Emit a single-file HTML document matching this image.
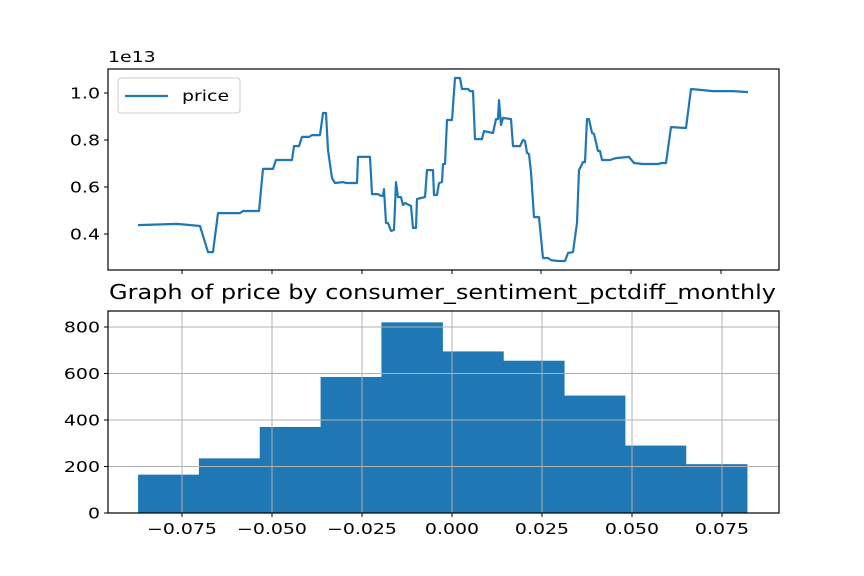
<!DOCTYPE html>
<html><head><meta charset="utf-8"><style>
body{margin:0;background:#fff}
svg{display:block;font-family:"DejaVu Sans","Liberation Sans",sans-serif}
</style></head><body>
<svg id="c" width="864" height="576" viewBox="0 0 864 576"></svg>
<script>
// top line series: time (arbitrary units) and price (1e13)
const lineT = [0,39,62,70,75,80,102,105,121,125,135,138,154,156,161,164,171,174,182,185,188,190,194,197,205,208,219,220,232,234,240,243,245,246,248,250,253,256,258,260,263,265,267,273,275,278,279,287,289,295,296,299,301,304,305,307,309,311,314,317,322,324,330,332,335,337,344,346,355,358,360,361,363,365,373,375,382,385,387,389,391,393,396,401,405,410,413,420,427,430,435,439,441,445,447,449,451,454,456,460,462,464,472,478,491,496,505,520,524,528,533,548,553,575,595,610];
const lineV = [0.438,0.443,0.434,0.323,0.323,0.489,0.489,0.498,0.498,0.677,0.677,0.715,0.715,0.774,0.774,0.813,0.813,0.821,0.821,0.915,0.915,0.757,0.638,0.617,0.621,0.617,0.617,0.728,0.728,0.570,0.570,0.562,0.562,0.591,0.447,0.447,0.413,0.417,0.621,0.557,0.557,0.523,0.532,0.519,0.426,0.426,0.549,0.557,0.672,0.672,0.566,0.566,0.617,0.621,0.698,0.698,0.885,0.885,0.885,1.064,1.064,1.017,1.017,1.008,1.008,0.804,0.804,0.838,0.830,0.889,0.889,0.970,0.864,0.894,0.889,0.774,0.774,0.800,0.796,0.745,0.740,0.664,0.472,0.472,0.298,0.298,0.289,0.285,0.285,0.319,0.323,0.447,0.672,0.706,0.706,0.889,0.889,0.830,0.826,0.753,0.753,0.715,0.715,0.723,0.728,0.702,0.698,0.698,0.702,0.702,0.855,0.851,1.017,1.008,1.008,1.004];
const topYTicks = [0.4,0.6,0.8,1.0];
const topYLabels = ["0.4","0.6","0.8","1.0"];
const topXTicks = [44,134,224,314,403,493,583];
// histogram
const binEdges = [-0.0872,-0.0703,-0.0534,-0.0365,-0.0196,-0.0027,0.0142,0.0311,0.0480,0.0649,0.0819];
const binCounts = [165,235,370,585,820,695,655,505,290,210];
const histXTicks = [-0.075,-0.05,-0.025,0,0.025,0.05,0.075];
const histXLabels = ["\u22120.075","\u22120.050","\u22120.025","0.000","0.025","0.050","0.075"];
const histYTicks = [0,200,400,600,800];
const histYLabels = ["0","200","400","600","800"];

const svg = document.getElementById('c');
const NS = 'http://www.w3.org/2000/svg';
function mk(tag, attrs, parent){const e=document.createElementNS(NS,tag);for(const k in attrs)e.setAttribute(k,attrs[k]);(parent||svg).appendChild(e);return e;}
function widen(t){const w=t.getComputedTextLength();if(w>0){t.setAttribute('textLength',(w*1.26).toFixed(1));t.setAttribute('lengthAdjust','spacingAndGlyphs');}}

const L=108,R=779, T1=69,B1=270, T2=311,B2=513;
const FS=15;
const tx = t => 138 + t;
const ty = v => 234 - (v-0.4)*235;
const hx = v => 452 + v*3600;
const hy = c => 513 - c*0.2325;

// TOP AXES
const g1 = mk('g',{});


let d='';
lineT.forEach((t,i)=>{d+=(i?'L':'M')+tx(t).toFixed(1)+','+ty(lineV[i]).toFixed(1);});
const pl = mk('path',{d:d,fill:'none',stroke:'#1f77b4','stroke-width':2.2,'stroke-linejoin':'round'},g1);


topYTicks.forEach((v,i)=>{
  const y=ty(v);
  mk('line',{x1:L-4,x2:L,y1:y,y2:y,stroke:'#000','stroke-width':1},g1);
  const t=mk('text',{x:L-8,y:y+5.5,'text-anchor':'end','font-size':FS},g1);
  t.textContent=topYLabels[i];
  
  
  widen(t);
});
topXTicks.forEach(t=>{mk('line',{x1:tx(t),x2:tx(t),y1:B1,y2:B1+4,stroke:'#000','stroke-width':1},g1);});
mk('rect',{x:L,y:T1,width:R-L,height:B1-T1,fill:'none',stroke:'#000','stroke-width':1.2},g1);
const off=mk('text',{x:108,y:62,'font-size':FS},g1);off.textContent='1e13';


widen(off);
const lg=mk('g',{},g1);


mk('rect',{x:118,y:78,width:122,height:35,rx:3,fill:'#fff',stroke:'#ccc','stroke-width':1},lg);
mk('line',{x1:125,x2:168,y1:96,y2:96,stroke:'#1f77b4','stroke-width':2.2},lg);
const lt=mk('text',{x:182,y:101,'font-size':FS},lg);lt.textContent='price';
widen(lt);

// BOTTOM AXES
const g2 = mk('g',{});


binCounts.forEach((c,i)=>{
  const x0=hx(binEdges[i]),x1=hx(binEdges[i+1]);
  const r=mk('rect',{x:x0,y:hy(c),width:x1-x0+0.6,height:hy(0)-hy(c),fill:'#1f77b4'},g2);
  
  
});
histXTicks.forEach((v,i)=>{
  const x=hx(v);
  mk('line',{x1:x,x2:x,y1:T2,y2:B2,stroke:'#b0b0b0','stroke-width':1},g2);
  mk('line',{x1:x,x2:x,y1:B2,y2:B2+4,stroke:'#000','stroke-width':1},g2);
  const t=mk('text',{x:x,y:B2+21,'text-anchor':'middle','font-size':FS},g2);
  t.textContent=histXLabels[i];
  
  
  widen(t);
});
histYTicks.forEach((v,i)=>{
  const y=hy(v);
  mk('line',{x1:L,x2:R,y1:y,y2:y,stroke:'#b0b0b0','stroke-width':1},g2);
  mk('line',{x1:L-4,x2:L,y1:y,y2:y,stroke:'#000','stroke-width':1},g2);
  const t=mk('text',{x:L-8,y:y+5.5,'text-anchor':'end','font-size':FS},g2);
  t.textContent=histYLabels[i];
  
  
  widen(t);
});
mk('rect',{x:L,y:T2,width:R-L,height:B2-T2,fill:'none',stroke:'#000','stroke-width':1.2},g2);
const ti=mk('text',{x:109,y:299,'font-size':20,textLength:667,lengthAdjust:'spacingAndGlyphs'},g2);
ti.textContent='Graph of price by consumer_sentiment_pctdiff_monthly';


</script>
</body></html>
